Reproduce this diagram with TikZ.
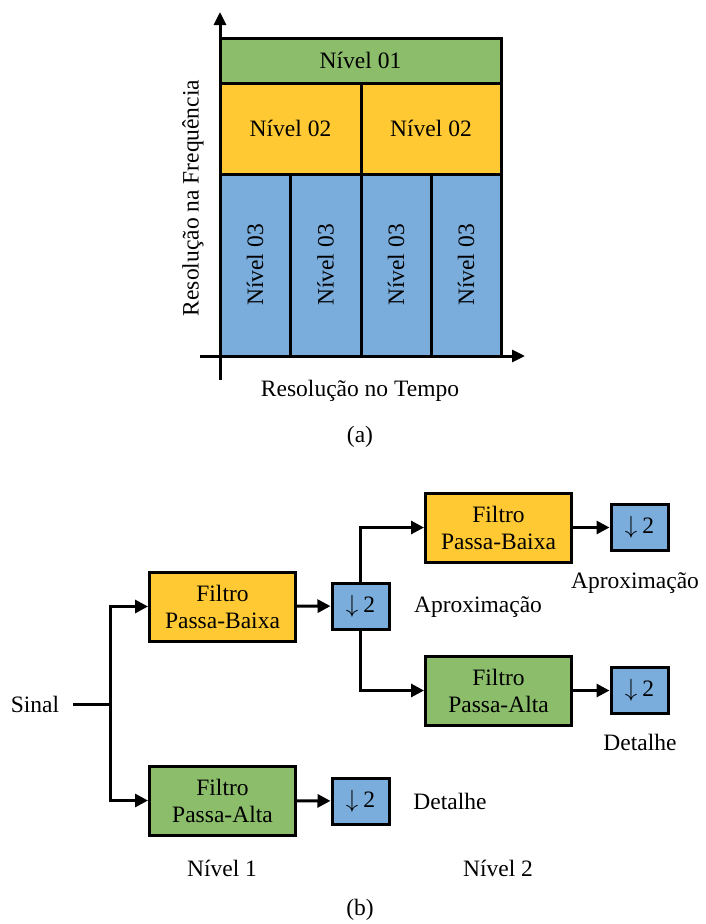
\documentclass[tikz,border=0pt]{standalone}
\usepackage{fontspec}
\setmainfont{Liberation Serif}
\usetikzlibrary{arrows.meta}
\definecolor{cgreen}{RGB}{139,189,107}
\definecolor{cyellow}{RGB}{255,201,51}
\definecolor{cblue}{RGB}{122,173,220}
\newcommand{\dsamp}{$\downarrow$\hspace{5pt}2}

\begin{document}
\begin{tikzpicture}[x=1pt,y=-1pt,
  every node/.style={font=\fontsize{23.5}{27}\selectfont},
  cell/.style={draw, line width=3pt, inner sep=0pt},
  filt/.style={draw, line width=3pt, minimum width=146pt, minimum height=69pt,
    align=center, inner sep=0pt},
  down/.style={draw, line width=3pt, fill=cblue, minimum width=57pt,
    minimum height=46pt, inner sep=0pt},
  conn/.style={line width=3pt, -{Triangle[length=13pt,width=13pt]}},
  wire/.style={line width=3pt},
  axis/.style={line width=3pt, -{Triangle[length=13pt,width=12pt]}},
]
\useasboundingbox (0,0) rectangle (705,924);

% ---- (a) time-frequency tiling ----
\node[cell, fill=cgreen, minimum width=281pt, minimum height=45pt] (n1) at (360.5,60.5) {Nível 01};
\node[cell, fill=cyellow, minimum width=141pt, minimum height=91pt] (n2a) at (290.5,128.5) {Nível 02};
\node[cell, fill=cyellow, minimum width=140pt, minimum height=91pt] (n2b) at (431,128.5) {Nível 02};
\node[cell, fill=cblue, minimum width=70pt, minimum height=182pt] (n3a) at (255,265) {\rotatebox{90}{Nível 03}};
\node[cell, fill=cblue, minimum width=71pt, minimum height=182pt] (n3b) at (325.5,265) {\rotatebox{90}{Nível 03}};
\node[cell, fill=cblue, minimum width=70pt, minimum height=182pt] (n3c) at (396,265) {\rotatebox{90}{Nível 03}};
\node[cell, fill=cblue, minimum width=70pt, minimum height=182pt] (n3d) at (466,265) {\rotatebox{90}{Nível 03}};

\coordinate (ybot) at (220,380);
\coordinate (ytop) at (220,12);
\coordinate (xleft) at (200,356);
\coordinate (xright) at (525,356);
\draw[axis] (ybot) -- (ytop);
\draw[axis] (xleft) -- (xright);

\node[rotate=90] (ylab) at (193,198) {Resolução na Frequência};
\node (xlab) at (360,391) {Resolução no Tempo};
\node (capa) at (360,437) {(a)};

% ---- (b) two-level filter bank ----
\node (sinal) at (35,704) {Sinal};
\coordinate (s0) at (73,704);
\coordinate (split) at (110,704);

\node[filt, fill=cyellow] (lp1) at (222.5,606.5) {Filtro\\Passa-Baixa};
\node[filt, fill=cgreen] (hp1) at (222.5,800.5) {Filtro\\Passa-Alta};
\node[down] (d1) at (360.5,606) {\dsamp};
\node[down] (d2) at (360.5,801) {\dsamp};

\node[filt, fill=cyellow] (lp2) at (498.5,527.5) {Filtro\\Passa-Baixa};
\node[filt, fill=cgreen] (hp2) at (498.5,690.5) {Filtro\\Passa-Alta};
\node[down] (d3) at (639.5,527.5) {\dsamp};
\node[down] (d4) at (639.5,690.5) {\dsamp};

\draw[wire] (s0) -- (split);
\draw[conn] (split) |- (lp1.west);
\draw[conn] (split) |- (hp1.west);
\draw[conn] (lp1) -- (d1);
\draw[conn] (hp1) -- (d2);
\draw[conn] (d1.north) |- (lp2.west);
\draw[conn] (d1.south) |- (hp2.west);
\draw[conn] (lp2) -- (d3);
\draw[conn] (hp2) -- (d4);

\node (apx1) at (478,607) {Aproximação};
\node (det1) at (450,801) {Detalhe};
\node (apx2) at (635,583) {Aproximação};
\node (det2) at (640,742) {Detalhe};
\node (niv1) at (222,868) {Nível 1};
\node (niv2) at (498,868) {Nível 2};
\node (capb) at (360,910) {(b)};
\end{tikzpicture}
\end{document}
